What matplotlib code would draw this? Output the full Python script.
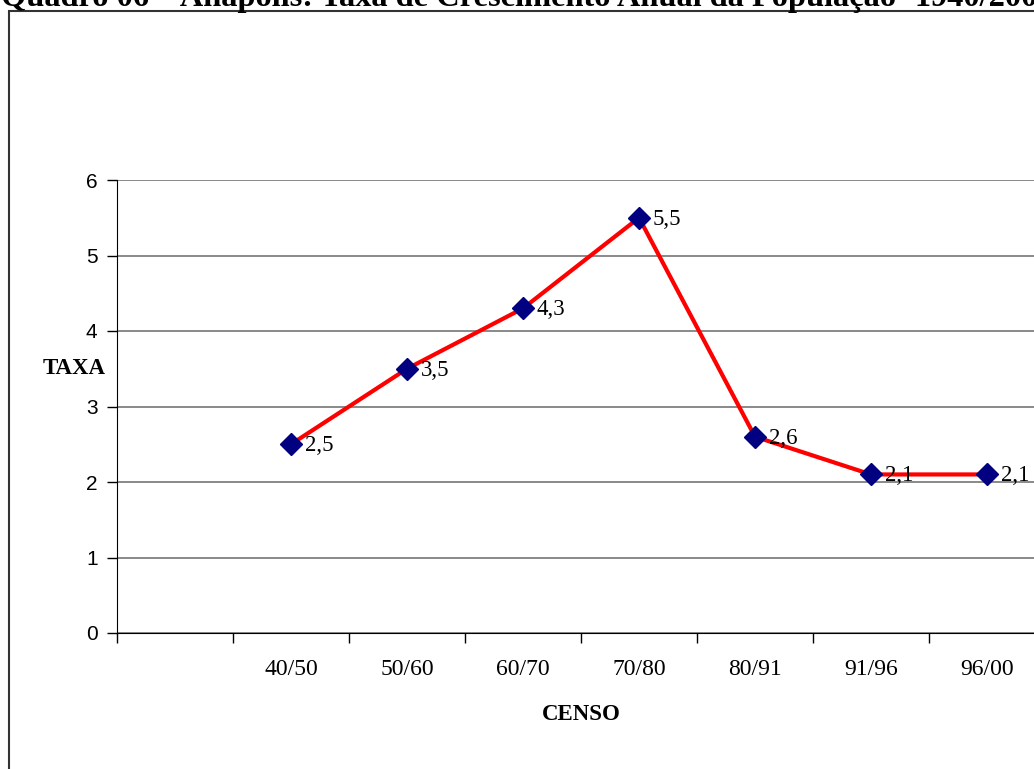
import matplotlib
matplotlib.use("Agg")
import matplotlib.pyplot as plt
from matplotlib.patches import Rectangle

categories = ["", "40/50", "50/60", "60/70", "70/80", "80/91", "91/96", "96/00"]
censo = ["40/50", "50/60", "60/70", "70/80", "80/91", "91/96", "96/00"]
taxa = [2.5, 3.5, 4.3, 5.5, 2.6, 2.1, 2.1]
labels = ["2,5", "3,5", "4,3", "5,5", "2,6", "2,1", "2,1"]
yticks = [0, 1, 2, 3, 4, 5, 6]

W, H = 1034, 769
fig = plt.figure(figsize=(W / 100, H / 100), dpi=100)
fig.patch.set_facecolor("white")

serif = ["Liberation Serif", "DejaVu Serif"]
sans = ["Liberation Sans", "DejaVu Sans"]

# outer border (chart area frame)
fig.patches.append(Rectangle((9 / W, -0.1), 1.2, 1 - 11 / H + 0.1, transform=fig.transFigure,
                             fill=False, edgecolor="#333333", linewidth=1.5))

# title (cut off at the top, as in the reference)
fig.text(1 / W, 1 - 6 / H, "Quadro 06 – Anápolis: Taxa de Crescimento Anual da População -1940/2000",
         ha="left", va="baseline", fontsize=23.3, fontweight="bold", family=serif)

ax = fig.add_axes([117 / W, 1 - 633 / H, 928 / W, (633 - 180) / H])
ax.set_facecolor("white")

xpos = [categories.index(c) for c in censo]
ax.plot(xpos, taxa, color="#ff0000", linewidth=3, zorder=3,
        marker="D", markersize=11.5, markerfacecolor="#000080", markeredgecolor="#000080")
for x, y, s in zip(xpos, taxa, labels):
    ax.annotate(s, (x, y), xytext=(10, -1), textcoords="offset points", ha="left", va="center",
                fontsize=16.5, family=serif, zorder=4)

ax.set_xlim(-0.5, len(categories) - 0.5)
ax.set_ylim(0, 6)
ax.set_yticks(yticks)
ax.set_yticklabels([str(v) for v in yticks], fontsize=15, family=sans)
ax.yaxis.grid(True, color="#808080", linewidth=1.3)
ax.set_axisbelow(True)

ax.set_xticks([i - 0.5 for i in range(len(categories) + 1)])
ax.set_xticklabels([])
ax.set_xticks(range(len(categories)), minor=True)
ax.set_xticklabels(categories, minor=True, fontsize=17, family=serif)
ax.tick_params(axis="x", which="minor", length=0, pad=19)
ax.tick_params(axis="x", which="major", length=7, width=1, direction="out")
ax.tick_params(axis="y", length=7, width=1, direction="out", pad=7)

for s in ["top", "right"]:
    ax.spines[s].set_visible(False)
ax.spines["left"].set_color("black")
ax.spines["bottom"].set_color("black")

fig.text(581 / W, 1 - 714 / H, "CENSO", ha="center", va="center", fontsize=16.5,
         fontweight="bold", family=serif)
fig.text(74 / W, 1 - 368 / H, "TAXA", ha="center", va="center", fontsize=16.5,
         fontweight="bold", family=serif)

fig.savefig("out.png", dpi=100)
